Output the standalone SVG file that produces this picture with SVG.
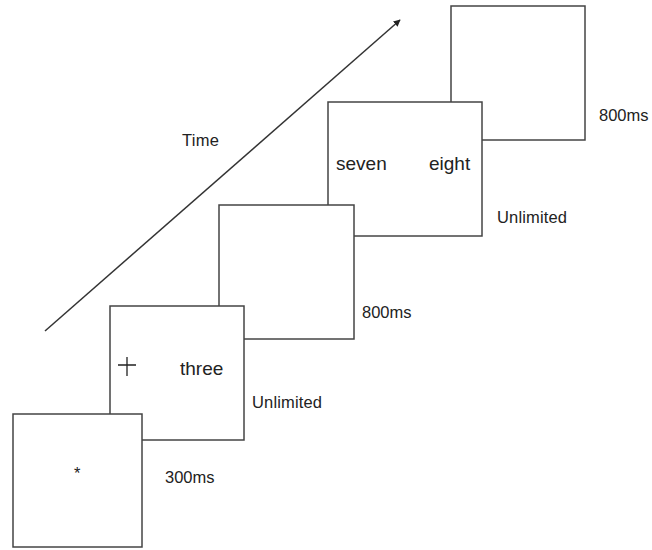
<svg xmlns="http://www.w3.org/2000/svg" width="652" height="550" viewBox="0 0 652 550">
<style>
.box{fill:#fff;stroke:#444;stroke-width:1.5}
.lbl{font-family:"Liberation Sans",Arial,sans-serif;font-size:16.5px;fill:#222}
.word{font-family:"Liberation Sans",Arial,sans-serif;font-size:19px;fill:#222}
</style>
<defs>
<marker id="ah" viewBox="0 0 10 10" refX="9" refY="5" markerWidth="7" markerHeight="7" orient="auto" markerUnits="userSpaceOnUse">
<path d="M0,0 L10,5 L0,10 z" fill="#222"/>
</marker>
</defs>
<rect width="652" height="550" fill="#fff"/>
<g id="connectors">
<line x1="45" y1="331" x2="400" y2="20" stroke="#333" stroke-width="1.5" marker-end="url(#ah)"/>
</g>
<text class="lbl" x="182" y="146" textLength="37">Time</text>
<g id="screen5">
<rect class="box" x="451" y="6" width="134" height="134"/>
<text class="lbl" x="599" y="121">800ms</text>
</g>
<g id="screen4">
<rect class="box" x="328" y="102" width="154" height="134"/>
<text class="word" x="336" y="170">seven</text>
<text class="word" x="429" y="170">eight</text>
<text class="lbl" x="497" y="223" textLength="70">Unlimited</text>
</g>
<g id="screen3">
<rect class="box" x="219" y="205" width="135" height="134"/>
<text class="lbl" x="362" y="318">800ms</text>
</g>
<g id="screen2">
<rect class="box" x="110" y="306" width="134" height="134"/>
<path d="M118,365 H136 M127,357 V376" stroke="#222" stroke-width="1.3" fill="none"/>
<text class="word" x="180" y="375">three</text>
<text class="lbl" x="252" y="408" textLength="70">Unlimited</text>
</g>
<g id="screen1">
<rect class="box" x="13" y="414" width="129" height="133"/>
<text class="lbl" x="74" y="479" font-size="15">*</text>
<text class="lbl" x="165" y="483">300ms</text>
</g>
</svg>
